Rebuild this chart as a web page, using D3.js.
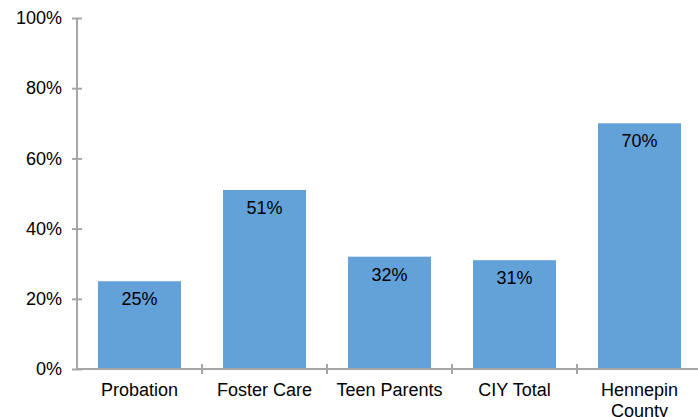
<!DOCTYPE html>
<html>
<head>
<meta charset="utf-8">
<script src="https://cdn.jsdelivr.net/npm/d3@7"></script>
<style>
  body { margin: 0; background: #fff; }
  svg text { font-family: Arial, "Liberation Sans", sans-serif; font-size: 18px; fill: #000; }
</style>
</head>
<body>
<div id="chart"></div>
<script>
// data
const categories = ['Probation', 'Foster Care', 'Teen Parents', 'CIY Total', 'Hennepin County'];
const values = [0.25, 0.51, 0.32, 0.31, 0.70];
const yTicks = [0, 0.2, 0.4, 0.6, 0.8, 1.0];

const width = 698;
const height = 417;
const margin = { top: 18, right: -4, bottom: 48, left: 77 };

const svg = d3.select('#chart')
    .append('svg')
    .attr('width', width)
    .attr('height', height);

const x = d3.scaleBand()
    .domain(categories)
    .range([margin.left, width - margin.right])
    .paddingInner(0.336)
    .paddingOuter(0.168);

const y = d3.scaleLinear()
    .domain([0, 1])
    .range([height - margin.bottom, margin.top]);

const axisColor = '#a6a6a6';

// bars
svg.append('g')
    .selectAll('rect')
    .data(values)
    .enter()
    .append('rect')
    .attr('x', (d, i) => x(categories[i]))
    .attr('y', d => y(d))
    .attr('width', x.bandwidth())
    .attr('height', d => y(0) - y(d))
    .attr('fill', '#62a2d9');

// value labels
svg.append('g')
    .selectAll('text')
    .data(values)
    .enter()
    .append('text')
    .attr('x', (d, i) => x(categories[i]) + x.bandwidth() / 2)
    .attr('y', d => y(d) + 24)
    .attr('text-anchor', 'middle')
    .text(d => d3.format('.0%')(d));

// y axis
const yAxis = svg.append('g')
    .attr('transform', `translate(${margin.left},0)`)
    .call(d3.axisLeft(y).tickValues(yTicks).tickFormat(d3.format('.0%')).tickSize(5));
yAxis.select('.domain').remove();
yAxis.selectAll('.tick line')
    .attr('x1', -5).attr('x2', 5)
    .attr('stroke', axisColor).attr('stroke-width', 2);
yAxis.selectAll('.tick text')
    .attr('x', -15)
    .style('font-size', '18px')
    .style('font-family', 'Arial, "Liberation Sans", sans-serif')
    .attr('fill', '#000');
yAxis.append('line')
    .attr('x1', 0).attr('x2', 0)
    .attr('y1', y(1)).attr('y2', y(0))
    .attr('stroke', axisColor).attr('stroke-width', 2);

// x axis
const xAxis = svg.append('g')
    .attr('transform', `translate(0,${y(0)})`)
    .call(d3.axisBottom(x).tickSize(0).tickPadding(27));
xAxis.select('.domain').remove();
xAxis.selectAll('.tick text')
    .style('font-size', '18px')
    .style('font-family', 'Arial, "Liberation Sans", sans-serif')
    .attr('fill', '#000')
    .attr('dy', 0)
    .each(function (d) {
        // wrap long labels onto a second line
        const t = d3.select(this);
        const words = d.split(' ');
        t.text(d);
        if (this.getComputedTextLength() > x.step() - 4 && words.length > 1) {
            t.text(null);
            words.forEach((w, k) => {
                t.append('tspan')
                    .attr('x', 0)
                    .attr('y', 27 + k * 21)
                    .text(w);
            });
        }
    });
xAxis.append('line')
    .attr('x1', margin.left).attr('x2', width)
    .attr('y1', 0).attr('y2', 0)
    .attr('stroke', axisColor).attr('stroke-width', 2);

// tick marks between categories
const step = x.step();
const boundaries = categories.slice(1).map(c => x(c) - (step - x.bandwidth()) / 2);
xAxis.selectAll('.sep')
    .data(boundaries)
    .enter()
    .append('line')
    .attr('class', 'sep')
    .attr('x1', d => d).attr('x2', d => d)
    .attr('y1', -5).attr('y2', 5)
    .attr('stroke', axisColor).attr('stroke-width', 2);
</script>
</body>
</html>
